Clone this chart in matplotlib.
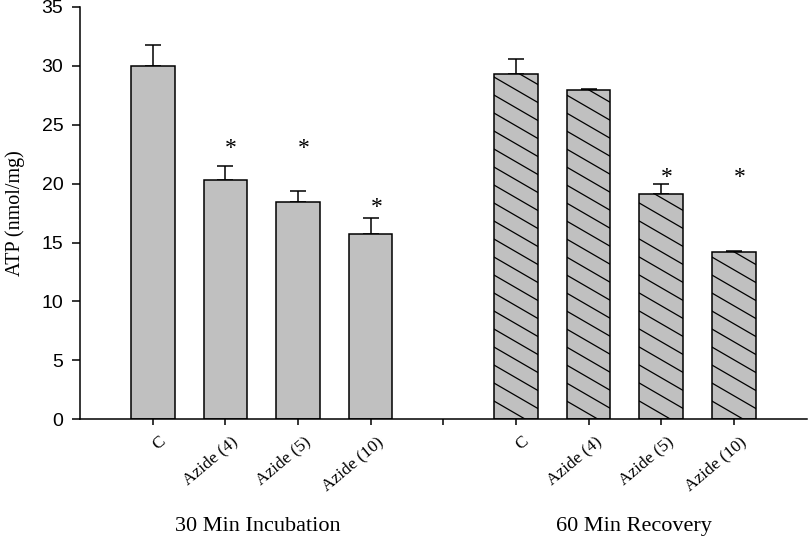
import numpy as np
import matplotlib
matplotlib.use("Agg")
import matplotlib.pyplot as plt
import matplotlib.transforms as mtransforms
from matplotlib.lines import Line2D

# values
tick_labels = ["C", "Azide (4)", "Azide (5)", "Azide (10)"]
group_names = ["30 Min Incubation", "60 Min Recovery"]

incubation = [30.0, 20.3, 18.4, 15.75]
incubation_err = [1.8, 1.2, 1.0, 1.35]
recovery = [29.3, 27.95, 19.1, 14.2]
recovery_err = [1.25, 0.05, 0.9, 0.12]

# asterisk heights (significance marks), None = no mark
incubation_star = [None, 23.0, 23.0, 18.0]
recovery_star = [None, None, 20.5, 20.5]

serif = "Liberation Serif"
sans = "Liberation Sans"

fig = plt.figure(figsize=(8.09, 5.36), dpi=100)
ax = fig.add_axes([0.099, 0.218, 0.898, 0.769])

x_inc = np.arange(1, 5)
x_rec = np.arange(6, 10)
width = 0.6
gray = "#c0c0c0"

bars_inc = ax.bar(x_inc, incubation, width, color=gray, edgecolor="black", linewidth=1.1, zorder=2)
bars_rec = ax.bar(x_rec, recovery, width, color=gray, edgecolor="black", linewidth=1.1, zorder=2)

ax.errorbar(x_inc, incubation, yerr=[np.zeros(4), incubation_err], fmt="none",
            ecolor="black", elinewidth=1.1, capsize=5.5, capthick=1.1, zorder=1)
ax.errorbar(x_rec, recovery, yerr=[np.zeros(4), recovery_err], fmt="none",
            ecolor="black", elinewidth=1.1, capsize=5.5, capthick=1.1, zorder=1)

ax.set_xlim(0, 10)
ax.set_ylim(0, 35)

# hatch lines at a shallower angle than matplotlib's built-in hatch
bb = ax.get_window_extent()
px_x = bb.width / 10.0
px_y = bb.height / 35.0
slope = 0.58 * px_x / px_y       # data units of y per unit of x
step = 18.0 / px_y               # vertical spacing of lines
for bar in bars_rec:
    x0 = bar.get_x()
    x1 = x0 + bar.get_width()
    top = bar.get_height()
    for c in np.arange(-step, top + slope * width + step, step):
        ln = Line2D([x0, x1], [c, c - slope * width], color="black", linewidth=0.9, zorder=3)
        ax.add_line(ln)
        ln.set_clip_path(bar)

# asterisks
for xs, ss in [(x_inc, incubation_star), (x_rec, recovery_star)]:
    for xi, s in zip(xs, ss):
        if s is not None:
            ax.text(xi + 0.08, s, "*", ha="center", va="center", fontsize=17, family=serif)

ax.spines["top"].set_visible(False)
ax.spines["right"].set_visible(False)
ax.spines["left"].set_linewidth(1.1)
ax.spines["bottom"].set_linewidth(1.1)

ax.set_yticks(range(0, 36, 5))
ax.tick_params(axis="y", direction="out", length=6, width=1.1, labelsize=14, pad=6)
for t in ax.get_yticklabels():
    t.set_family(sans)

ax.set_xticks([1, 2, 3, 4, 5, 6, 7, 8, 9])
ax.set_xticklabels(tick_labels + [""] + tick_labels, rotation=40, ha="right",
                   rotation_mode="anchor", family=serif, fontsize=12.5)
ax.tick_params(axis="x", direction="out", length=4.5, width=1.1, pad=6)
shift = mtransforms.ScaledTranslation(4 / 72, 0, fig.dpi_scale_trans)
for t in ax.get_xticklabels():
    t.set_transform(t.get_transform() + shift)

ax.set_ylabel("ATP (nmol/mg)", family=serif, fontsize=14.5, labelpad=12)

trans = ax.get_xaxis_transform()
ax.text(2.45, -0.272, group_names[0], transform=trans, ha="center", va="baseline",
        family=serif, fontsize=16)
ax.text(7.62, -0.272, group_names[1], transform=trans, ha="center", va="baseline",
        family=serif, fontsize=16)

fig.savefig("out.png", dpi=100)
